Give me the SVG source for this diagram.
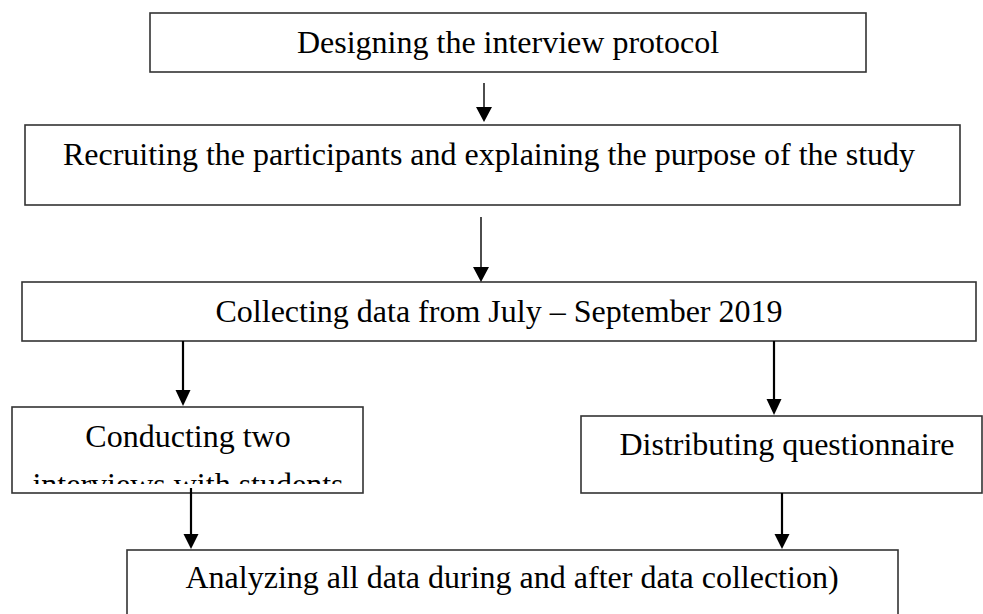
<svg xmlns="http://www.w3.org/2000/svg" width="983" height="614" viewBox="0 0 983 614">
<style>
.box{fill:#fff;stroke:#333;stroke-width:1.6}
.t{font-family:"Liberation Serif","Times New Roman",serif;font-size:32px;fill:#000;text-anchor:middle}
.thin{stroke:#000;stroke-width:1.4;fill:none}
.thick{stroke:#000;stroke-width:2.2;fill:none}
.head{fill:#000}
</style>
<defs>
<clipPath id="clip4"><rect x="12" y="407" width="351" height="77"/></clipPath>
</defs>
<rect width="983" height="614" fill="#fff"/>
<g id="n1">
<rect class="box" x="150" y="13" width="716" height="59"/>
<text class="t" x="508" y="53">Designing the interview protocol</text>
</g>
<g id="n2">
<rect class="box" x="25" y="125" width="935" height="80"/>
<text class="t" x="489" y="165">Recruiting the participants and explaining the purpose of the study</text>
</g>
<g id="n3">
<rect class="box" x="22" y="282" width="954" height="59"/>
<text class="t" x="499" y="322">Collecting data from July – September 2019</text>
</g>
<g id="n4">
<rect class="box" x="12" y="407" width="351" height="86"/>
<text class="t" x="188" y="447">Conducting two</text>
<text class="t" x="188" y="495" clip-path="url(#clip4)">interviews with students</text>
</g>
<g id="n5">
<rect class="box" x="581" y="416" width="401" height="77"/>
<text class="t" x="787" y="455">Distributing questionnaire</text>
</g>
<g id="n6">
<rect class="box" x="127" y="550" width="771" height="70"/>
<text class="t" x="512" y="588">Analyzing all data during and after data collection)</text>
</g>
<g id="connectors">
<line class="thin" x1="484" y1="83" x2="484" y2="110"/>
<polygon class="head" points="476,107 492,107 484,122"/>
<line class="thin" x1="481" y1="217" x2="481" y2="270"/>
<polygon class="head" points="473,267 489,267 481,282"/>
<line class="thick" x1="183" y1="341" x2="183" y2="393"/>
<polygon class="head" points="175.5,390 190.5,390 183,406"/>
<line class="thick" x1="774" y1="341" x2="774" y2="402"/>
<polygon class="head" points="766.5,399 781.5,399 774,415"/>
<line class="thick" x1="191" y1="488" x2="191" y2="537"/>
<polygon class="head" points="183.5,534 198.5,534 191,549"/>
<line class="thick" x1="782" y1="493" x2="782" y2="537"/>
<polygon class="head" points="774.5,534 789.5,534 782,549"/>
</g>
</svg>
